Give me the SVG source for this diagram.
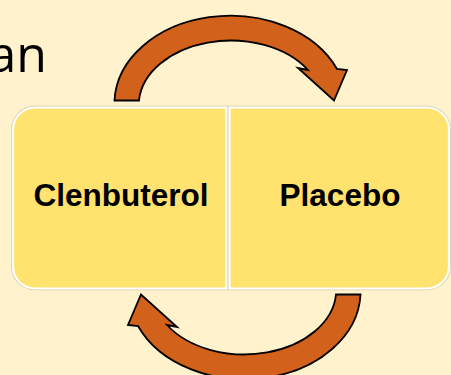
<svg xmlns="http://www.w3.org/2000/svg" width="451" height="375" viewBox="0 0 451 375">
<defs>
<style>
.bg{fill:#FFF2CC}
.box-edge{fill:none;stroke:#D6C9A6;stroke-width:3.6}
.box{fill:#FFE36E;stroke:#FFFFFF;stroke-width:2.2}
.lbl{font-family:"Liberation Sans",Arial,sans-serif;font-weight:bold;font-size:31.5px;fill:#000;text-anchor:middle}
.title{font-family:"Open Sans","Noto Sans",sans-serif;font-size:50px;fill:#000;text-anchor:end}
.arrow{fill:#D2621B;stroke:#000;stroke-width:1.8;stroke-linejoin:miter}
</style>
<path id="arc" d="M114.5 100.5 A116 88 0 0 1 337 69 L347 70 L334 100.5 L298 68 L308 70 A92 64.5 0 0 0 139 100.5 Z"/>
</defs>
<rect class="bg" x="0" y="0" width="451" height="375"/>
<text class="title" x="47" y="72">an</text>
<g id="node-clenbuterol">
<path class="box-edge" d="M35 107.5 H226.5 V288.5 H35 A22 22 0 0 1 13 266.5 V129.5 A22 22 0 0 1 35 107.5 Z"/>
<path class="box" d="M35 107.5 H226.5 V288.5 H35 A22 22 0 0 1 13 266.5 V129.5 A22 22 0 0 1 35 107.5 Z"/>
<text class="lbl" x="121" y="205.5">Clenbuterol</text>
</g>
<g id="node-placebo">
<path class="box-edge" d="M229.5 107.5 H427 A22 22 0 0 1 449 129.5 V266.5 A22 22 0 0 1 427 288.5 H229.5 Z"/>
<path class="box" d="M229.5 107.5 H427 A22 22 0 0 1 449 129.5 V266.5 A22 22 0 0 1 427 288.5 H229.5 Z"/>
<text class="lbl" x="340" y="205.5">Placebo</text>
</g>
<g id="connectors">
<use href="#arc" class="arrow"/>
<use href="#arc" class="arrow" transform="rotate(180 237.5 197.5)"/>
</g>
</svg>
